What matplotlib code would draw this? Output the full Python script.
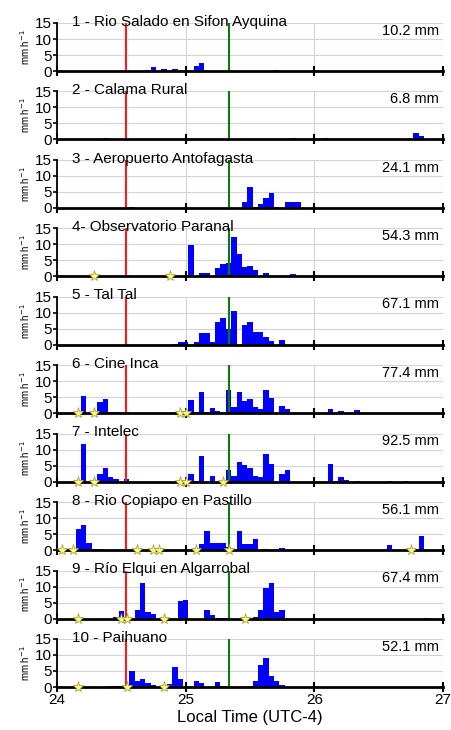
import numpy as np
import matplotlib
matplotlib.use("Agg")
import matplotlib.pyplot as plt

plt.rcParams['font.family'] = ['Liberation Sans', 'DejaVu Sans']

# station names and event totals
stations = [
    "1 - Rio Salado en Sifon Ayquina",
    "2 - Calama Rural",
    "3 - Aeropuerto Antofagasta",
    "4- Observatorio Paranal",
    "5 - Tal Tal",
    "6 - Cine Inca",
    "7 - Intelec",
    "8 - Rio Copiapo en Pastillo",
    "9 - Río Elqui en Algarrobal",
    "10 - Paihuano",
]
totals = ["10.2 mm", "6.8 mm", "24.1 mm", "54.3 mm", "67.1 mm",
          "77.4 mm", "92.5 mm", "56.1 mm", "67.4 mm", "52.1 mm"]

# hourly rain rate (mm/h), hours counted from day 24 00:00
h1 = [17, 18, 20, 22, 26, 27, 41]
r1 = [0.4, 1.3, 0.5, 0.6, 1.6, 2.4, 0.4]
h2 = [8, 9, 44, 50, 67, 68]
r2 = [0.3, 0.5, 0.5, 0.5, 2.0, 1.2]
h3 = [14, 35, 36, 37, 38, 39, 40, 41, 43, 44, 45]
r3 = [0.4, 1.9, 6.5, 0.3, 1.2, 3.0, 4.5, 0.2, 2.0, 2.0, 2.0]
h4 = [25, 27, 28, 30, 31, 32, 33, 34, 35, 36, 37, 38, 39, 40, 44]
r4 = [9.9, 1.2, 1.2, 2.5, 3.9, 4.3, 12.2, 7.0, 2.9, 3.3, 2.0, 0.2, 1.0, 0.2, 0.8]
h5 = [22, 23, 24, 26, 27, 28, 29, 30, 31, 32, 33, 35, 36, 37, 38, 39, 40, 42]
r5 = [0.2, 0.9, 0.9, 0.9, 3.6, 3.6, 1.0, 7.0, 8.4, 4.8, 10.7, 6.1, 7.1,
      4.0, 4.0, 2.5, 1.3, 1.4]
h6 = [5, 8, 9, 10, 11, 25, 26, 27, 28, 29, 30, 32, 33, 34, 35, 36, 37, 38,
      39, 40, 42, 43, 51, 53, 54, 56]
r6 = [5.3, 3.5, 4.5, 0.5, 0.5, 4.2, 0.4, 6.5, 0.4, 1.6, 0.8, 7.4, 1.8, 6.5,
      3.9, 4.6, 2.0, 1.2, 7.2, 4.7, 2.4, 1.2, 1.4, 0.6, 0.2, 1.0]
h7 = [5, 8, 9, 10, 11, 13, 25, 26, 27, 29, 32, 33, 34, 35, 36, 37, 38, 39,
      40, 42, 43, 51, 52, 53, 54, 56, 62, 65]
r7 = [11.9, 2.5, 4.3, 1.4, 0.9, 0.8, 2.5, 0.3, 7.9, 1.8, 3.5, 1.9, 6.1, 5.2,
      4.4, 1.9, 1.6, 8.5, 5.4, 2.5, 3.5, 5.5, 0.2, 1.4, 0.4, 0.3, 0.3, 0.3]
h8 = [4, 5, 6, 7, 8, 27, 28, 29, 30, 31, 32, 34, 35, 36, 37, 39, 42, 62, 68]
r8 = [6.5, 7.9, 2.3, 0.2, 0.2, 1.8, 6.1, 2.1, 2.2, 2.3, 1.0, 6.1, 1.8, 1.8,
      3.6, 0.2, 0.6, 1.5, 4.3]
h9 = [11, 12, 15, 16, 17, 18, 23, 24, 28, 29, 30, 31, 32, 37, 38, 39, 40,
      41, 42, 69]
r9 = [0.5, 2.5, 2.8, 11.0, 2.2, 1.5, 5.5, 5.8, 2.7, 1.0, 0.2, 0.2, 0.2,
      0.5, 2.6, 9.5, 11.0, 2.0, 2.7, 0.3]
h10 = [10, 11, 12, 14, 15, 16, 17, 18, 21, 22, 23, 26, 27, 30, 31, 36, 37,
       38, 39, 40, 41, 42]
r10 = [0.4, 0.4, 0.4, 5.0, 1.8, 2.5, 1.2, 0.5, 1.0, 6.3, 2.5, 1.9, 1.1,
       1.5, 0.4, 0.2, 1.9, 6.8, 9.2, 3.4, 2.0, 0.7]

# star markers (hours)
s1, s2, s3, s5 = [], [], [], []
s4 = [7, 21]
s6 = [4, 7, 23, 24]
s7 = [4, 7, 23, 24, 31]
s8 = [1, 3, 15, 18, 19, 26, 32, 66]
s9 = [4, 12, 13, 20, 35]
s10 = [4, 13, 20]

red_time = 24.54
green_time = 25.34

hours = [h1, h2, h3, h4, h5, h6, h7, h8, h9, h10]
rates = [r1, r2, r3, r4, r5, r6, r7, r8, r9, r10]
stars = [s1, s2, s3, s4, s5, s6, s7, s8, s9, s10]

fig = plt.figure(figsize=(4.52, 7.30), dpi=100)
axes = fig.subplots(10, 1, sharex=True)
fig.subplots_adjust(left=0.126, right=0.980, bottom=0.0589, top=0.9685,
                    hspace=0.425)

for i, ax in enumerate(axes):
    x = 24 + np.array(hours[i]) / 24
    ax.bar(x, rates[i], width=1 / 24, color='#0000ff', zorder=3)
    ax.axvline(red_time, color='#ff1a1a', lw=1.5, zorder=4)
    ax.axvline(green_time, color='#0a7a0a', lw=1.5, zorder=4)
    if stars[i]:
        xs = 24 + np.array(stars[i]) / 24
        ax.plot(xs, np.zeros(len(xs)), ls='none', marker='*', ms=8,
                mfc='#ffff80', mec='#a8a040', mew=0.6, clip_on=False, zorder=6)

    ax.set_xlim(24, 27)
    ax.set_ylim(0, 15)
    ax.set_yticks([0, 5, 10, 15])
    ax.set_xticks([24, 25, 26, 27])
    ax.grid(color='#d4d4d4', lw=0.8)
    ax.set_axisbelow(True)
    for side in ['top', 'right']:
        ax.spines[side].set_visible(False)
    ax.spines['left'].set_linewidth(1.3)
    ax.spines['bottom'].set_linewidth(2)
    ax.spines['bottom'].set_zorder(5)
    ax.tick_params(axis='y', direction='out', length=3, width=1.2,
                   labelsize=11, pad=1)
    ax.tick_params(axis='x', direction='inout', length=7, width=1.5,
                   labelsize=11, pad=1)
    ax.set_ylabel('mm h$^{-1}$', fontsize=7, labelpad=2)

    ax.text(24.12, 15.4, stations[i], fontsize=11, va='center', zorder=7)
    ax.text(26.97, 12.6, totals[i], fontsize=10.5, ha='right', va='center')

axes[-1].set_xlabel('Local Time (UTC-4)', fontsize=12, labelpad=2)

plt.savefig("out.png")
plt.close()
